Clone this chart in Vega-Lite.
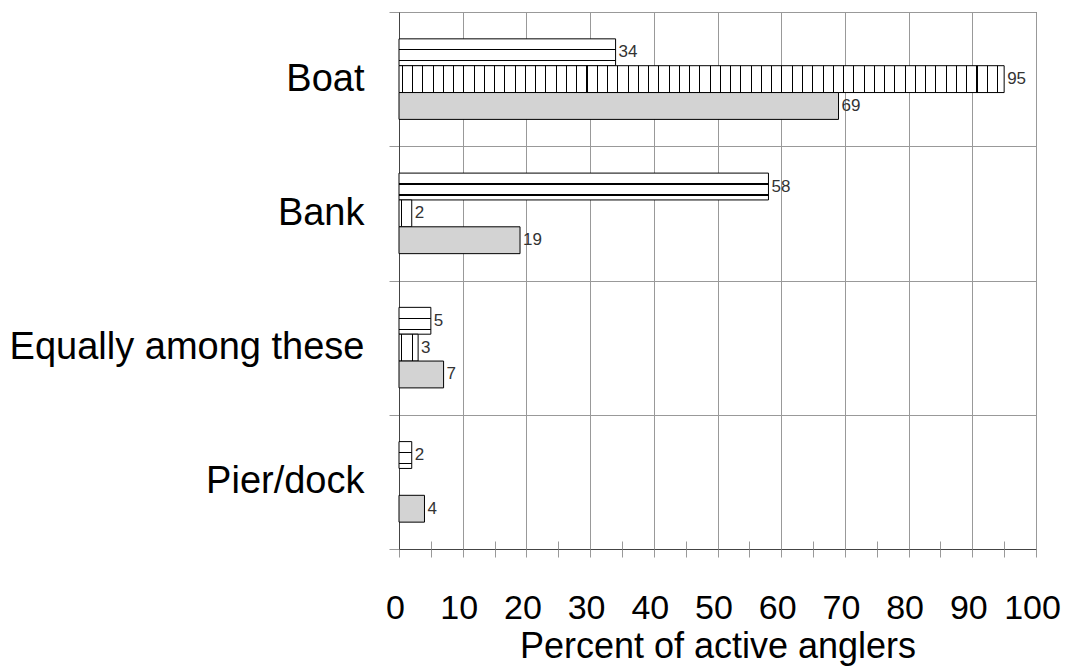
{
  "$schema": "https://vega.github.io/schema/vega-lite/v6.json",
  "width": 637,
  "height": 537,
  "autosize": {"type": "none"},
  "padding": {"left": 399, "top": 12, "right": 34, "bottom": 122},
  "background": "#ffffff",
  "config": {
    "font": "Liberation Sans",
    "view": {"stroke": "#444444", "strokeWidth": 1}
  },
  "data": {
    "values": [
      {"cat": "Boat", "s": "a", "v": 34},
      {"cat": "Boat", "s": "b", "v": 95},
      {"cat": "Boat", "s": "c", "v": 69},
      {"cat": "Bank", "s": "a", "v": 58},
      {"cat": "Bank", "s": "b", "v": 2},
      {"cat": "Bank", "s": "c", "v": 19},
      {"cat": "Equally among these", "s": "a", "v": 5},
      {"cat": "Equally among these", "s": "b", "v": 3},
      {"cat": "Equally among these", "s": "c", "v": 7},
      {"cat": "Pier/dock", "s": "a", "v": 2},
      {"cat": "Pier/dock", "s": "c", "v": 4}
    ]
  },
  "resolve": {"axis": {"x": "independent"}},
  "layer": [
    {
      "mark": {"type": "bar", "stroke": "#000000", "strokeWidth": 1},
      "encoding": {
        "y": {
          "field": "cat", "type": "nominal",
          "sort": ["Boat", "Bank", "Equally among these", "Pier/dock"],
          "scale": {"paddingInner": 0, "paddingOuter": 0},
          "axis": {
            "title": null, "tickBand": "extent", "grid": true, "gridColor": "#999999",
            "tickColor": "#999999", "tickSize": 10, "domainColor": "#444444",
            "labelFontSize": 38, "labelColor": "#000000", "labelPadding": 25, "labelLimit": 500
          }
        },
        "yOffset": {
          "field": "s", "type": "nominal",
          "scale": {"domain": ["a", "b", "c"], "paddingInner": 0, "paddingOuter": 1.185}
        },
        "x": {
          "field": "v", "type": "quantitative",
          "scale": {"domain": [0, 100], "nice": false},
          "axis": {
            "orient": "bottom",
            "values": [0, 5, 10, 15, 20, 25, 30, 35, 40, 45, 50, 55, 60, 65, 70, 75, 80, 85, 90, 95, 100],
            "labelExpr": "datum.value % 10 == 0 ? datum.label : ''",
            "grid": true, "gridColor": "#999999",
            "gridOpacity": {"condition": {"test": "datum.value % 10 == 0", "value": 1}, "value": 0},
            "tickColor": "#999999", "tickSize": 8, "domainColor": "#444444",
            "labelFontSize": 34, "labelColor": "#000000", "labelPadding": 34, "labelOffset": -4,
            "labelOverlap": false, "labelFlush": false,
            "title": "Percent of active anglers", "titleFontSize": 36, "titleFontWeight": "normal",
            "titleColor": "#000000", "titlePadding": 4
          }
        },
        "fill": {
          "condition": [
            {"test": "datum.s == 'a'", "value": {"gradient": "linear", "x1": 0, "y1": 0, "x2": 0, "y2": 1, "stops": [
              {"offset": 0, "color": "#ffffff"}, {"offset": 0.38, "color": "#ffffff"}, {"offset": 0.38, "color": "#000000"},
              {"offset": 0.43, "color": "#000000"}, {"offset": 0.43, "color": "#ffffff"}, {"offset": 0.79, "color": "#ffffff"},
              {"offset": 0.79, "color": "#000000"}, {"offset": 0.84, "color": "#000000"}, {"offset": 0.84, "color": "#ffffff"},
              {"offset": 1, "color": "#ffffff"}]}},
            {"test": "datum.s == 'b' && datum.v > 50", "value": {"gradient": "linear", "x1": 0, "y1": 0, "x2": 1, "y2": 0, "stops": [
              {"offset": 0, "color": "#fff"},
              {"offset": 0.0045, "color": "#fff"}, {"offset": 0.0045, "color": "#000"}, {"offset": 0.0062, "color": "#000"}, {"offset": 0.0062, "color": "#fff"},
              {"offset": 0.0215, "color": "#fff"}, {"offset": 0.0215, "color": "#000"}, {"offset": 0.0232, "color": "#000"}, {"offset": 0.0232, "color": "#fff"},
              {"offset": 0.0384, "color": "#fff"}, {"offset": 0.0384, "color": "#000"}, {"offset": 0.0401, "color": "#000"}, {"offset": 0.0401, "color": "#fff"},
              {"offset": 0.0554, "color": "#fff"}, {"offset": 0.0554, "color": "#000"}, {"offset": 0.0571, "color": "#000"}, {"offset": 0.0571, "color": "#fff"},
              {"offset": 0.0723, "color": "#fff"}, {"offset": 0.0723, "color": "#000"}, {"offset": 0.0740, "color": "#000"}, {"offset": 0.0740, "color": "#fff"},
              {"offset": 0.0893, "color": "#fff"}, {"offset": 0.0893, "color": "#000"}, {"offset": 0.0910, "color": "#000"}, {"offset": 0.0910, "color": "#fff"},
              {"offset": 0.1063, "color": "#fff"}, {"offset": 0.1063, "color": "#000"}, {"offset": 0.1080, "color": "#000"}, {"offset": 0.1080, "color": "#fff"},
              {"offset": 0.1232, "color": "#fff"}, {"offset": 0.1232, "color": "#000"}, {"offset": 0.1249, "color": "#000"}, {"offset": 0.1249, "color": "#fff"},
              {"offset": 0.1402, "color": "#fff"}, {"offset": 0.1402, "color": "#000"}, {"offset": 0.1419, "color": "#000"}, {"offset": 0.1419, "color": "#fff"},
              {"offset": 0.1571, "color": "#fff"}, {"offset": 0.1571, "color": "#000"}, {"offset": 0.1588, "color": "#000"}, {"offset": 0.1588, "color": "#fff"},
              {"offset": 0.1741, "color": "#fff"}, {"offset": 0.1741, "color": "#000"}, {"offset": 0.1758, "color": "#000"}, {"offset": 0.1758, "color": "#fff"},
              {"offset": 0.1911, "color": "#fff"}, {"offset": 0.1911, "color": "#000"}, {"offset": 0.1928, "color": "#000"}, {"offset": 0.1928, "color": "#fff"},
              {"offset": 0.2080, "color": "#fff"}, {"offset": 0.2080, "color": "#000"}, {"offset": 0.2097, "color": "#000"}, {"offset": 0.2097, "color": "#fff"},
              {"offset": 0.2250, "color": "#fff"}, {"offset": 0.2250, "color": "#000"}, {"offset": 0.2267, "color": "#000"}, {"offset": 0.2267, "color": "#fff"},
              {"offset": 0.2419, "color": "#fff"}, {"offset": 0.2419, "color": "#000"}, {"offset": 0.2436, "color": "#000"}, {"offset": 0.2436, "color": "#fff"},
              {"offset": 0.2589, "color": "#fff"}, {"offset": 0.2589, "color": "#000"}, {"offset": 0.2606, "color": "#000"}, {"offset": 0.2606, "color": "#fff"},
              {"offset": 0.2759, "color": "#fff"}, {"offset": 0.2759, "color": "#000"}, {"offset": 0.2776, "color": "#000"}, {"offset": 0.2776, "color": "#fff"},
              {"offset": 0.2928, "color": "#fff"}, {"offset": 0.2928, "color": "#000"}, {"offset": 0.2945, "color": "#000"}, {"offset": 0.2945, "color": "#fff"},
              {"offset": 0.3098, "color": "#fff"}, {"offset": 0.3098, "color": "#000"}, {"offset": 0.3115, "color": "#000"}, {"offset": 0.3115, "color": "#fff"},
              {"offset": 0.3267, "color": "#fff"}, {"offset": 0.3267, "color": "#000"}, {"offset": 0.3284, "color": "#000"}, {"offset": 0.3284, "color": "#fff"},
              {"offset": 0.3437, "color": "#fff"}, {"offset": 0.3437, "color": "#000"}, {"offset": 0.3454, "color": "#000"}, {"offset": 0.3454, "color": "#fff"},
              {"offset": 0.3607, "color": "#fff"}, {"offset": 0.3607, "color": "#000"}, {"offset": 0.3624, "color": "#000"}, {"offset": 0.3624, "color": "#fff"},
              {"offset": 0.3776, "color": "#fff"}, {"offset": 0.3776, "color": "#000"}, {"offset": 0.3793, "color": "#000"}, {"offset": 0.3793, "color": "#fff"},
              {"offset": 0.3946, "color": "#fff"}, {"offset": 0.3946, "color": "#000"}, {"offset": 0.3963, "color": "#000"}, {"offset": 0.3963, "color": "#fff"},
              {"offset": 0.4115, "color": "#fff"}, {"offset": 0.4115, "color": "#000"}, {"offset": 0.4132, "color": "#000"}, {"offset": 0.4132, "color": "#fff"},
              {"offset": 0.4285, "color": "#fff"}, {"offset": 0.4285, "color": "#000"}, {"offset": 0.4302, "color": "#000"}, {"offset": 0.4302, "color": "#fff"},
              {"offset": 0.4455, "color": "#fff"}, {"offset": 0.4455, "color": "#000"}, {"offset": 0.4472, "color": "#000"}, {"offset": 0.4472, "color": "#fff"},
              {"offset": 0.4624, "color": "#fff"}, {"offset": 0.4624, "color": "#000"}, {"offset": 0.4641, "color": "#000"}, {"offset": 0.4641, "color": "#fff"},
              {"offset": 0.4794, "color": "#fff"}, {"offset": 0.4794, "color": "#000"}, {"offset": 0.4811, "color": "#000"}, {"offset": 0.4811, "color": "#fff"},
              {"offset": 0.4963, "color": "#fff"}, {"offset": 0.4963, "color": "#000"}, {"offset": 0.4980, "color": "#000"}, {"offset": 0.4980, "color": "#fff"},
              {"offset": 0.5133, "color": "#fff"}, {"offset": 0.5133, "color": "#000"}, {"offset": 0.5150, "color": "#000"}, {"offset": 0.5150, "color": "#fff"},
              {"offset": 0.5303, "color": "#fff"}, {"offset": 0.5303, "color": "#000"}, {"offset": 0.5320, "color": "#000"}, {"offset": 0.5320, "color": "#fff"},
              {"offset": 0.5472, "color": "#fff"}, {"offset": 0.5472, "color": "#000"}, {"offset": 0.5489, "color": "#000"}, {"offset": 0.5489, "color": "#fff"},
              {"offset": 0.5642, "color": "#fff"}, {"offset": 0.5642, "color": "#000"}, {"offset": 0.5659, "color": "#000"}, {"offset": 0.5659, "color": "#fff"},
              {"offset": 0.5811, "color": "#fff"}, {"offset": 0.5811, "color": "#000"}, {"offset": 0.5828, "color": "#000"}, {"offset": 0.5828, "color": "#fff"},
              {"offset": 0.5981, "color": "#fff"}, {"offset": 0.5981, "color": "#000"}, {"offset": 0.5998, "color": "#000"}, {"offset": 0.5998, "color": "#fff"},
              {"offset": 0.6151, "color": "#fff"}, {"offset": 0.6151, "color": "#000"}, {"offset": 0.6168, "color": "#000"}, {"offset": 0.6168, "color": "#fff"},
              {"offset": 0.6320, "color": "#fff"}, {"offset": 0.6320, "color": "#000"}, {"offset": 0.6337, "color": "#000"}, {"offset": 0.6337, "color": "#fff"},
              {"offset": 0.6490, "color": "#fff"}, {"offset": 0.6490, "color": "#000"}, {"offset": 0.6507, "color": "#000"}, {"offset": 0.6507, "color": "#fff"},
              {"offset": 0.6659, "color": "#fff"}, {"offset": 0.6659, "color": "#000"}, {"offset": 0.6676, "color": "#000"}, {"offset": 0.6676, "color": "#fff"},
              {"offset": 0.6829, "color": "#fff"}, {"offset": 0.6829, "color": "#000"}, {"offset": 0.6846, "color": "#000"}, {"offset": 0.6846, "color": "#fff"},
              {"offset": 0.6999, "color": "#fff"}, {"offset": 0.6999, "color": "#000"}, {"offset": 0.7016, "color": "#000"}, {"offset": 0.7016, "color": "#fff"},
              {"offset": 0.7168, "color": "#fff"}, {"offset": 0.7168, "color": "#000"}, {"offset": 0.7185, "color": "#000"}, {"offset": 0.7185, "color": "#fff"},
              {"offset": 0.7338, "color": "#fff"}, {"offset": 0.7338, "color": "#000"}, {"offset": 0.7355, "color": "#000"}, {"offset": 0.7355, "color": "#fff"},
              {"offset": 0.7507, "color": "#fff"}, {"offset": 0.7507, "color": "#000"}, {"offset": 0.7524, "color": "#000"}, {"offset": 0.7524, "color": "#fff"},
              {"offset": 0.7677, "color": "#fff"}, {"offset": 0.7677, "color": "#000"}, {"offset": 0.7694, "color": "#000"}, {"offset": 0.7694, "color": "#fff"},
              {"offset": 0.7847, "color": "#fff"}, {"offset": 0.7847, "color": "#000"}, {"offset": 0.7864, "color": "#000"}, {"offset": 0.7864, "color": "#fff"},
              {"offset": 0.8016, "color": "#fff"}, {"offset": 0.8016, "color": "#000"}, {"offset": 0.8033, "color": "#000"}, {"offset": 0.8033, "color": "#fff"},
              {"offset": 0.8186, "color": "#fff"}, {"offset": 0.8186, "color": "#000"}, {"offset": 0.8203, "color": "#000"}, {"offset": 0.8203, "color": "#fff"},
              {"offset": 0.8355, "color": "#fff"}, {"offset": 0.8355, "color": "#000"}, {"offset": 0.8372, "color": "#000"}, {"offset": 0.8372, "color": "#fff"},
              {"offset": 0.8525, "color": "#fff"}, {"offset": 0.8525, "color": "#000"}, {"offset": 0.8542, "color": "#000"}, {"offset": 0.8542, "color": "#fff"},
              {"offset": 0.8695, "color": "#fff"}, {"offset": 0.8695, "color": "#000"}, {"offset": 0.8712, "color": "#000"}, {"offset": 0.8712, "color": "#fff"},
              {"offset": 0.8864, "color": "#fff"}, {"offset": 0.8864, "color": "#000"}, {"offset": 0.8881, "color": "#000"}, {"offset": 0.8881, "color": "#fff"},
              {"offset": 0.9034, "color": "#fff"}, {"offset": 0.9034, "color": "#000"}, {"offset": 0.9051, "color": "#000"}, {"offset": 0.9051, "color": "#fff"},
              {"offset": 0.9203, "color": "#fff"}, {"offset": 0.9203, "color": "#000"}, {"offset": 0.9220, "color": "#000"}, {"offset": 0.9220, "color": "#fff"},
              {"offset": 0.9373, "color": "#fff"}, {"offset": 0.9373, "color": "#000"}, {"offset": 0.9390, "color": "#000"}, {"offset": 0.9390, "color": "#fff"},
              {"offset": 0.9543, "color": "#fff"}, {"offset": 0.9543, "color": "#000"}, {"offset": 0.9560, "color": "#000"}, {"offset": 0.9560, "color": "#fff"},
              {"offset": 0.9712, "color": "#fff"}, {"offset": 0.9712, "color": "#000"}, {"offset": 0.9729, "color": "#000"}, {"offset": 0.9729, "color": "#fff"},
              {"offset": 0.9882, "color": "#fff"}, {"offset": 0.9882, "color": "#000"}, {"offset": 0.9899, "color": "#000"}, {"offset": 0.9899, "color": "#fff"},
              {"offset": 1, "color": "#fff"}]}},
            {"test": "datum.s == 'b' && datum.v == 2", "value": {"gradient": "linear", "x1": 0, "y1": 0, "x2": 1, "y2": 0, "stops": [
              {"offset": 0, "color": "#ffffff"}, {"offset": 0.15, "color": "#ffffff"}, {"offset": 0.15, "color": "#000000"},
              {"offset": 0.23, "color": "#000000"}, {"offset": 0.23, "color": "#ffffff"}, {"offset": 1, "color": "#ffffff"}]}},
            {"test": "datum.s == 'b'", "value": {"gradient": "linear", "x1": 0, "y1": 0, "x2": 1, "y2": 0, "stops": [
              {"offset": 0, "color": "#ffffff"}, {"offset": 0.12, "color": "#ffffff"}, {"offset": 0.12, "color": "#000000"},
              {"offset": 0.17, "color": "#000000"}, {"offset": 0.17, "color": "#ffffff"}, {"offset": 0.66, "color": "#ffffff"},
              {"offset": 0.66, "color": "#000000"}, {"offset": 0.71, "color": "#000000"}, {"offset": 0.71, "color": "#ffffff"},
              {"offset": 1, "color": "#ffffff"}]}}
          ],
          "value": "#d3d3d3"
        }
      }
    },
    {
      "mark": {"type": "text", "align": "left", "baseline": "middle", "dx": 3, "fontSize": 17, "color": "#333333"},
      "encoding": {
        "y": {"field": "cat", "type": "nominal", "sort": ["Boat", "Bank", "Equally among these", "Pier/dock"]},
        "yOffset": {"field": "s", "type": "nominal"},
        "x": {"field": "v", "type": "quantitative", "axis": null},
        "text": {"field": "v", "type": "quantitative"}
      }
    },
    {
      "mark": {"type": "point", "opacity": 0},
      "encoding": {
        "y": {"field": "cat", "type": "nominal", "sort": ["Boat", "Bank", "Equally among these", "Pier/dock"]},
        "x": {
          "field": "v", "type": "quantitative",
          "axis": {
            "orient": "bottom",
            "values": [0, 5, 10, 15, 20, 25, 30, 35, 40, 45, 50, 55, 60, 65, 70, 75, 80, 85, 90, 95, 100],
            "tickSize": -8, "tickColor": "#999999", "labels": false, "domain": false, "grid": false, "title": null
          }
        }
      }
    }
  ]
}
